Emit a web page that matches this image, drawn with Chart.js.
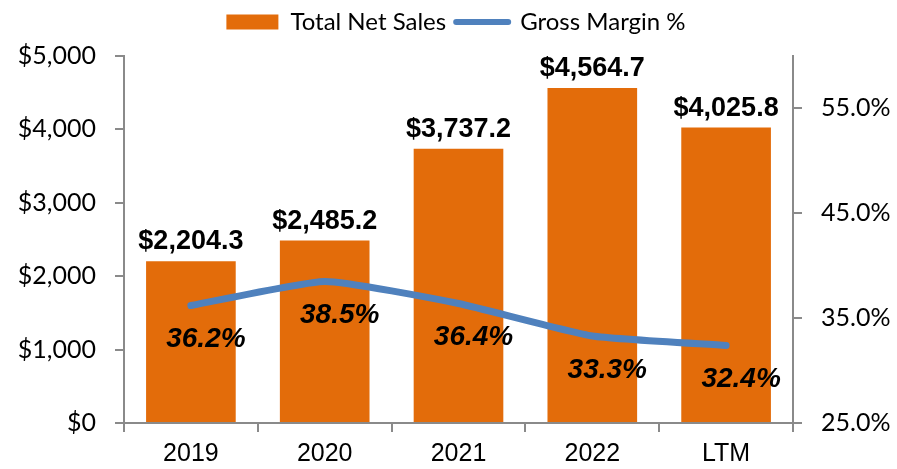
<!DOCTYPE html>
<html>
<head>
<meta charset="utf-8">
<script src="https://cdn.jsdelivr.net/npm/chart.js@4"></script>
<style>
html,body{margin:0;padding:0;background:#fff;}
#wrap{width:897px;height:469px;position:relative;}
</style>
</head>
<body>
<div id="wrap"><canvas id="c" width="897" height="469"></canvas></div>
<script>
const categories = ["2019", "2020", "2021", "2022", "LTM"];
const netSales = [2204.3, 2485.2, 3737.2, 4564.7, 4025.8];
const grossMargin = [36.2, 38.5, 36.4, 33.3, 32.4];
const leftTicks = [0, 1000, 2000, 3000, 4000, 5000];
const rightTicks = [25, 35, 45, 55];

const ORANGE = '#E36C0A';
const BLUE = '#4F81BD';
const AXIS = '#8A8A8A';

function fmtMoney(v, dec) {
  return '$' + v.toLocaleString('en-US', {minimumFractionDigits: dec, maximumFractionDigits: dec});
}

const legendSpacer = {
  id: 'legendSpacer',
  beforeLayout(chart) {
    const lg = chart.legend;
    if (lg && !lg._spacerPatched) {
      const f = lg.fit;
      lg.fit = function () { f.call(this); this.height += 12; };
      lg._spacerPatched = true;
    }
  }
};

const labelPlugin = {
  id: 'valueLabels',
  afterDatasetsDraw(chart) {
    const ctx = chart.ctx;
    ctx.save();
    ctx.fillStyle = '#000';
    ctx.textAlign = 'center';
    const barMeta = chart.getDatasetMeta(0);
    ctx.font = 'bold 27px "Liberation Sans", Arial, sans-serif';
    ctx.textBaseline = 'alphabetic';
    barMeta.data.forEach((el, i) => {
      ctx.fillText(fmtMoney(netSales[i], 1), el.x, el.y - 12);
    });
    const lineMeta = chart.getDatasetMeta(1);
    ctx.font = 'italic bold 28px "Liberation Sans", Arial, sans-serif';
    ctx.textBaseline = 'middle';
    lineMeta.data.forEach((el, i) => {
      ctx.fillText(grossMargin[i].toFixed(1) + '%', el.x + 15, el.y + 34);
    });
    ctx.restore();
  }
};

function build() {
  new Chart(document.getElementById('c'), {
    data: {
      labels: categories,
      datasets: [
        {
          type: 'bar',
          label: 'Total Net Sales',
          data: netSales,
          backgroundColor: ORANGE,
          yAxisID: 'y',
          order: 2,
          categoryPercentage: 1.0,
          barPercentage: 0.67
        },
        {
          type: 'line',
          label: 'Gross Margin %',
          data: grossMargin,
          borderColor: BLUE,
          backgroundColor: BLUE,
          borderWidth: 7,
          borderCapStyle: 'round',
          borderJoinStyle: 'round',
          pointRadius: 0,
          tension: 0.15,
          yAxisID: 'y1',
          order: 1
        }
      ]
    },
    options: {
      responsive: false,
      animation: false,
      layout: {padding: {left: 15, right: 0, top: 0, bottom: 0}},
      plugins: {
        tooltip: {enabled: false},
        legend: {
          position: 'top',
          labels: {
            usePointStyle: true,
            pointStyleWidth: 52,
            boxHeight: 15,
            padding: 10,
            color: '#000',
            font: {family: 'Lato', size: 24},
            generateLabels(chart) {
              return [
                {text: 'Total Net Sales', fillStyle: ORANGE, strokeStyle: ORANGE, lineWidth: 0, pointStyle: 'rect', datasetIndex: 0, hidden: false},
                {text: 'Gross Margin %', fillStyle: BLUE, strokeStyle: BLUE, lineWidth: 6, lineCap: 'round', pointStyle: 'line', datasetIndex: 1, hidden: false}
              ];
            }
          }
        }
      },
      scales: {
        x: {
          offset: true,
          grid: {display: true, drawOnChartArea: false, drawTicks: true, tickLength: 9, color: AXIS, lineWidth: 2, offset: true},
          border: {display: true, color: AXIS, width: 2},
          ticks: {color: '#000', font: {family: '"Liberation Sans", Arial', size: 25}, padding: 7, maxRotation: 0},
          afterFit(s) { s.height = 46; }
        },
        y: {
          position: 'left',
          min: 0, max: 5000,
          afterBuildTicks(s) { s.ticks = leftTicks.map(v => ({value: v})); },
          grid: {display: true, drawOnChartArea: false, drawTicks: true, tickLength: 9, color: AXIS, lineWidth: 2},
          border: {display: true, color: AXIS, width: 2},
          ticks: {color: '#000', font: {family: 'Lato', size: 25}, padding: 19, callback: v => fmtMoney(v, 0)},
          afterFit(s) { s.width = 109; }
        },
        y1: {
          position: 'right',
          min: 25, max: 60,
          afterBuildTicks(s) { s.ticks = rightTicks.map(v => ({value: v})); },
          grid: {display: true, drawOnChartArea: false, drawTicks: true, tickLength: 9, color: AXIS, lineWidth: 2},
          border: {display: true, color: AXIS, width: 2},
          ticks: {color: '#000', font: {family: 'Lato', size: 25}, padding: 19, callback: v => v.toFixed(1) + '%'},
          afterFit(s) { s.width = 104; }
        }
      }
    },
    plugins: [legendSpacer, labelPlugin]
  });
}

Promise.all([
  document.fonts.load('25px Lato'),
  document.fonts.load('25px "Liberation Sans"'),
  document.fonts.load('bold 27px "Liberation Sans"'),
  document.fonts.load('italic bold 28px "Liberation Sans"')
]).then(build, build);
</script>
</body>
</html>
